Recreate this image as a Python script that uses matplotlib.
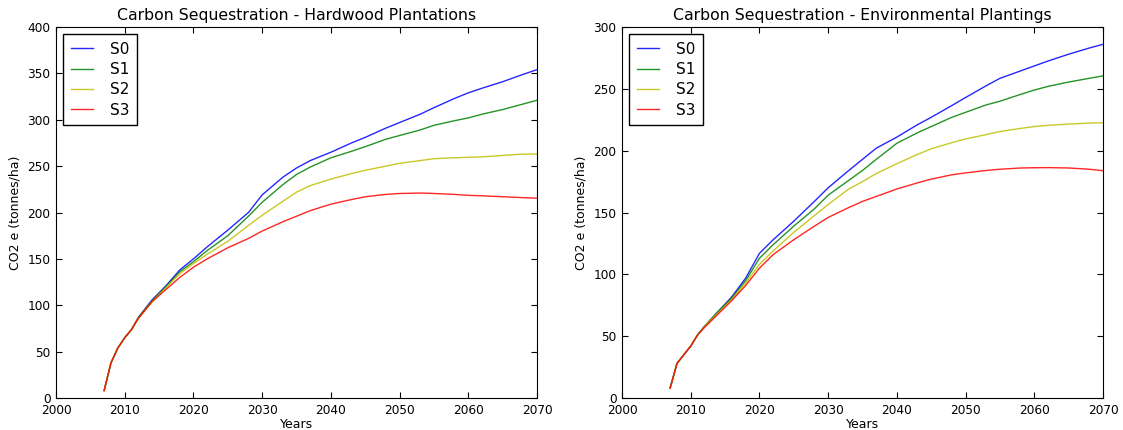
import numpy as np
import matplotlib.pyplot as plt

# years
years = [2007, 2008, 2009, 2010, 2011, 2012, 2014, 2016, 2018, 2020, 2022, 2025,
         2028, 2030, 2033, 2035, 2037, 2040, 2043, 2045, 2048, 2050, 2053, 2055,
         2058, 2060, 2062, 2065, 2068, 2070]

# Hardwood plantations
hw_s0 = [8, 38, 54, 65, 74, 87, 106, 121, 138, 150, 163, 181,
         200, 219, 238, 248, 256, 265, 275, 281, 291, 297, 306, 313,
         323, 329, 334, 341, 349, 354]
hw_s1 = [8, 38, 54, 65, 74, 87, 105, 120, 136, 147, 159, 175,
         196, 211, 230, 241, 249, 259, 266, 271, 279, 283, 289, 294,
         299, 302, 306, 311, 317, 321]
hw_s2 = [8, 38, 54, 65, 74, 86, 104, 119, 134, 145, 155, 169,
         186, 197, 212, 222, 229, 236, 242, 245.5, 250, 253, 256, 258,
         259, 259.5, 260, 261.5, 263, 263]
hw_s3 = [8, 38, 54, 65, 74, 86, 104, 117, 130, 141, 150, 162,
         172, 180, 190, 196, 202, 209, 214, 217, 219.5, 220.5, 221, 220.5,
         219.5, 218.5, 218, 217, 216, 215.5]

# Environmental plantings
ep_s0 = [8, 28, 35, 42, 51, 58, 70, 82, 97, 117, 128, 143,
         159, 170, 184, 193, 202, 211, 221, 227, 236.5, 243, 252.5, 258.5,
         264.5, 268.5, 272.5, 278, 283, 286]
ep_s1 = [8, 28, 35, 42, 51, 58, 70, 81, 95, 113, 124, 139,
         153, 164, 176, 184, 193, 206, 214.5, 219.5, 227, 231, 237, 240,
         245.5, 249, 252, 255.5, 258.5, 260.5]
ep_s2 = [8, 28, 35, 42, 51, 58, 69, 80, 93, 108, 119, 134,
         147.5, 156.5, 169, 175, 181.5, 189.5, 197, 201.5, 206.5, 209.5, 213, 215.5,
         218, 219.5, 220.5, 221.5, 222.3, 222.6]
ep_s3 = [8, 28, 35, 42, 51, 57, 68, 79, 91, 105, 116, 128,
         139, 146, 154, 159, 163, 169, 174, 177, 180.5, 182, 184, 185,
         186, 186.2, 186.3, 186, 185, 183.8]

labels = ['S0', 'S1', 'S2', 'S3']
colors = ['#0000ff', '#008000', '#bfbf00', '#ff0000']

panels = [
    ('Carbon Sequestration - Hardwood Plantations', [hw_s0, hw_s1, hw_s2, hw_s3], 400),
    ('Carbon Sequestration - Environmental Plantings', [ep_s0, ep_s1, ep_s2, ep_s3], 300),
]

fig = plt.figure(figsize=(11.23, 4.30), dpi=100)
lefts = [0.0499, 0.5539]
for (title, series, ymax), left in zip(panels, lefts):
    ax = fig.add_axes([left, 0.0744, 0.4283, 0.8628])
    for s, lab, c in zip(series, labels, colors):
        ax.plot(years, s, color=c, lw=1.0, alpha=0.85, label=lab)
    ax.set_xlim(2000, 2070)
    ax.set_ylim(0, ymax)
    ax.set_xticks(np.arange(2000, 2071, 10))
    ax.tick_params(direction='in', top=True, right=True, labelsize=8.7, length=4, pad=4)
    ax.set_title(title, fontsize=11.3, pad=5)
    ax.set_xlabel('Years', fontsize=9, labelpad=1)
    ax.set_ylabel('CO2 e (tonnes/ha)', fontsize=9)
    leg = ax.legend(loc='upper left', fontsize=11, fancybox=False, framealpha=1,
                    borderaxespad=0.45, handlelength=1.5, handletextpad=1.1,
                    labelspacing=0.35, borderpad=0.5)
    leg.get_frame().set_edgecolor('black')

fig.savefig('out.png', dpi=100)
